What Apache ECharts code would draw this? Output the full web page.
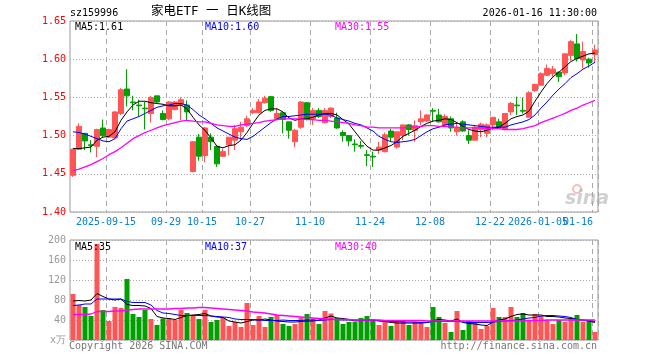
<!DOCTYPE html>
<html><head><meta charset="utf-8">
<script src="https://cdn.jsdelivr.net/npm/echarts@6/dist/echarts.min.js"></script>
<style>html,body{margin:0;padding:0;background:#fff}#c{width:660px;height:360px}</style>
</head><body><div id="c"></div>
<script>
const dates = ['2025-09-05','2025-09-08','2025-09-09','2025-09-10','2025-09-11','2025-09-12','2025-09-15','2025-09-16','2025-09-17','2025-09-18',
'2025-09-19','2025-09-22','2025-09-23','2025-09-24','2025-09-25','2025-09-26','2025-09-29','2025-09-30','2025-10-09','2025-10-10',
'2025-10-13','2025-10-14','2025-10-15','2025-10-16','2025-10-17','2025-10-20','2025-10-21','2025-10-22','2025-10-23','2025-10-24',
'2025-10-27','2025-10-28','2025-10-29','2025-10-30','2025-10-31','2025-11-03','2025-11-04','2025-11-05','2025-11-06','2025-11-07',
'2025-11-10','2025-11-11','2025-11-12','2025-11-13','2025-11-14','2025-11-17','2025-11-18','2025-11-19','2025-11-20','2025-11-21',
'2025-11-24','2025-11-25','2025-11-26','2025-11-27','2025-11-28','2025-12-01','2025-12-02','2025-12-03','2025-12-04','2025-12-05',
'2025-12-08','2025-12-09','2025-12-10','2025-12-11','2025-12-12','2025-12-15','2025-12-16','2025-12-17','2025-12-18','2025-12-19',
'2025-12-22','2025-12-23','2025-12-24','2025-12-25','2025-12-26','2025-12-29','2025-12-30','2025-12-31','2026-01-05','2026-01-06',
'2026-01-07','2026-01-08','2026-01-09','2026-01-12','2026-01-13','2026-01-14','2026-01-15','2026-01-16'];

const opens = [1.448,1.482,1.503,1.488,1.486,1.510,1.498,1.497,1.529,1.561,
1.544,1.540,1.536,1.529,1.552,1.529,1.522,1.534,1.540,1.540,
1.453,1.498,1.474,1.498,1.486,1.473,1.488,1.494,1.505,1.513,
1.530,1.530,1.543,1.551,1.522,1.530,1.518,1.492,1.511,1.543,
1.522,1.533,1.517,1.525,1.523,1.504,1.500,1.489,1.487,1.475,
1.473,1.481,1.479,1.506,1.485,1.500,1.514,1.507,1.518,1.519,
1.533,1.527,1.514,1.522,1.505,1.518,1.500,1.494,1.508,1.503,
1.514,1.518,1.508,1.531,1.540,1.533,1.524,1.559,1.566,1.579,
1.581,1.583,1.582,1.605,1.620,1.599,1.600,1.606];
const closes = [1.482,1.512,1.493,1.487,1.508,1.500,1.508,1.531,1.560,1.552,
1.543,1.539,1.535,1.550,1.544,1.521,1.544,1.544,1.547,1.531,
1.492,1.473,1.510,1.492,1.463,1.479,1.498,1.509,1.511,1.522,
1.533,1.544,1.549,1.533,1.529,1.521,1.507,1.507,1.544,1.522,
1.533,1.525,1.533,1.536,1.510,1.500,1.493,1.488,1.486,1.474,
1.472,1.485,1.501,1.498,1.505,1.514,1.508,1.513,1.522,1.527,
1.532,1.518,1.525,1.510,1.510,1.506,1.494,1.511,1.515,1.514,
1.524,1.511,1.529,1.542,1.539,1.532,1.556,1.567,1.581,1.588,
1.587,1.577,1.607,1.623,1.601,1.610,1.595,1.612];
const lows = [1.446,1.481,1.481,1.478,1.472,1.498,1.497,1.496,1.527,1.538,
1.533,1.525,1.508,1.517,1.542,1.520,1.520,1.533,1.520,1.520,
1.452,1.467,1.465,1.481,1.459,1.472,1.474,1.481,1.494,1.511,
1.528,1.529,1.542,1.531,1.520,1.503,1.496,1.485,1.509,1.520,
1.514,1.523,1.516,1.523,1.509,1.492,1.486,1.479,1.483,1.460,
1.459,1.476,1.478,1.492,1.483,1.494,1.500,1.492,1.514,1.518,
1.518,1.517,1.511,1.505,1.500,1.505,1.489,1.494,1.498,1.498,
1.507,1.509,1.507,1.527,1.527,1.529,1.524,1.557,1.566,1.578,
1.577,1.570,1.579,1.598,1.597,1.588,1.589,1.595];
const highs = [1.483,1.516,1.503,1.494,1.509,1.521,1.509,1.532,1.562,1.587,
1.552,1.547,1.544,1.552,1.552,1.533,1.545,1.545,1.550,1.546,
1.493,1.502,1.511,1.503,1.487,1.483,1.498,1.514,1.518,1.526,
1.536,1.548,1.552,1.552,1.536,1.530,1.518,1.509,1.545,1.544,
1.536,1.536,1.536,1.537,1.530,1.507,1.500,1.495,1.493,1.481,
1.479,1.492,1.504,1.509,1.505,1.514,1.515,1.520,1.533,1.528,
1.536,1.535,1.528,1.525,1.516,1.520,1.507,1.514,1.517,1.516,
1.524,1.522,1.529,1.544,1.551,1.550,1.558,1.568,1.583,1.593,
1.591,1.584,1.607,1.625,1.633,1.623,1.602,1.619];

const ma5 = [1.483,1.483,1.484,1.485,1.494,1.498,1.499,1.505,1.520,1.531,
1.540,1.545,1.545,1.543,1.542,1.541,1.539,1.539,1.540,1.535,
1.524,1.514,1.507,1.497,1.486,1.484,1.487,1.488,1.494,1.504,
1.516,1.527,1.533,1.535,1.535,1.531,1.523,1.520,1.522,1.522,
1.524,1.527,1.529,1.529,1.527,1.521,1.515,1.505,1.495,1.486,
1.481,1.481,1.484,1.487,1.492,1.499,1.503,1.507,1.512,1.516,
1.519,1.520,1.522,1.521,1.517,1.512,1.508,1.506,1.505,1.507,
1.510,1.511,1.516,1.522,1.525,1.527,1.532,1.545,1.557,1.568,
1.577,1.583,1.590,1.597,1.601,1.604,1.607,1.608];
const ma10 = [1.505,1.504,1.502,1.499,1.496,1.493,1.492,1.496,1.509,1.519,
1.522,1.525,1.529,1.533,1.537,1.539,1.540,1.542,1.542,1.540,
1.534,1.527,1.522,1.516,1.510,1.506,1.502,1.498,1.496,1.495,
1.499,1.505,1.511,1.517,1.522,1.525,1.525,1.526,1.527,1.528,
1.528,1.528,1.528,1.527,1.523,1.521,1.519,1.516,1.514,1.510,
1.506,1.499,1.495,1.492,1.491,1.492,1.493,1.495,1.500,1.505,
1.509,1.511,1.514,1.515,1.516,1.515,1.514,1.513,1.512,1.511,
1.511,1.511,1.511,1.514,1.516,1.518,1.521,1.527,1.536,1.544,
1.553,1.561,1.568,1.576,1.581,1.587,1.591,1.596];
const ma30 = [1.454,1.456,1.459,1.462,1.466,1.470,1.475,1.479,1.484,1.490,
1.496,1.500,1.504,1.507,1.510,1.513,1.515,1.517,1.519,1.520,
1.519,1.518,1.518,1.516,1.514,1.513,1.512,1.512,1.514,1.515,
1.516,1.517,1.519,1.520,1.521,1.522,1.522,1.522,1.522,1.521,
1.521,1.520,1.520,1.519,1.518,1.517,1.516,1.514,1.513,1.511,
1.511,1.510,1.510,1.510,1.510,1.510,1.511,1.511,1.512,1.513,
1.513,1.512,1.512,1.511,1.511,1.510,1.510,1.510,1.510,1.509,
1.509,1.509,1.508,1.508,1.508,1.509,1.511,1.513,1.517,1.520,
1.523,1.526,1.529,1.533,1.536,1.540,1.543,1.546];

const volumes = [92,70,66,48,192,60,38,66,64,122,
52,46,60,42,30,43,43,40,60,54,
48,42,60,36,40,44,28,36,26,74,
30,48,26,46,50,32,28,32,45,52,
43,32,58,53,44,32,36,36,44,48,
40,30,40,28,36,40,30,36,36,26,
66,46,34,16,58,20,38,36,22,28,
64,46,46,66,46,54,40,52,48,40,
32,40,36,42,50,36,40,16];
const volMa5 = [78,79,78,80,93,87,82,80,82,71,
69,69,68,63,47,44,43,41,45,49,
50,51,53,48,46,45,38,36,34,37,
40,40,42,40,38,37,36,36,37,38,
38,40,44,48,44,43,41,38,39,40,
40,38,37,35,34,34,34,34,34,35,
39,41,40,38,42,35,33,32,30,29,
36,40,42,47,51,52,50,50,50,47,
47,46,44,43,41,40,38,35];
const volMa10 = [69,70,72,72,82,82,82,82,82,77,
75,75,75,70,59,54,53,51,49,49,
49,49,49,48,47,46,45,42,41,41,
41,40,39,39,39,40,39,39,39,40,
40,39,40,41,41,40,40,40,40,40,
40,39,38,37,37,36,36,36,35,35,
37,37,37,37,37,36,35,35,35,35,
36,37,38,39,40,42,44,45,48,49,
49,48,47,45,41,40,39,37];
const volMa30 = [51,51,51,52,57,57,57,58,58,60,
61,62,62,62,62,62,62,63,63,64,
64,65,65,64,63,62,61,60,59,58,
56,55,54,52,50,49,48,47,46,45,
44,43,42,42,41,41,41,40,40,40,
40,40,39,39,39,39,39,39,39,38,
38,38,38,38,38,38,38,38,38,38,
38,38,38,38,38,38,39,39,39,40,
40,40,40,40,40,40,40,40];

const tickDates = ['2025-09-15','2025-09-29','2025-10-15','2025-10-27','2025-11-10','2025-11-24','2025-12-08','2025-12-22','2026-01-05','2026-01-16'];
const tickLabels = ['2025-09-15','09-29','10-15','10-27','11-10','11-24','12-08','12-22','2026-01-05','01-16'];
const priceMaLabels = ['MA5:1.61','MA10:1.60','MA30:1.55'];
const volMaLabels = ['MA5:35','MA10:37','MA30:40'];
const headerCode = 'sz159996';
const headerTitle = '家电ETF 一 日K线图';
const headerTime = '2026-01-16 11:30:00';

const FONT = '"DejaVu Sans Mono", monospace';
const UP = '#ff5555', DOWN = '#00a000';
const MA_COLORS = ['#000000', '#0000ff', '#ff00ff'];
const tickIdx = tickDates.map(d => dates.indexOf(d));
const isTick = (i) => tickIdx.indexOf(i) >= 0;

function xAxis(gridIndex, showLabels) {
  return {
    type: 'category', gridIndex: gridIndex, data: dates, boundaryGap: true,
    axisLine: {show: false}, axisTick: {show: false},
    axisLabel: showLabels ? {
      show: true, interval: 0, margin: 5, color: '#0a80d0', hideOverlap: false,
      fontFamily: FONT, fontSize: 10,
      formatter: function (v) {
        const k = tickDates.indexOf(v);
        if (k < 0) return '';
        return (k === tickDates.length - 1 ? '{e|' : '{m|') + tickLabels[k] + '}';
      },
      rich: {
        m: {padding: [0, 6, 0, 0], fontFamily: FONT, fontSize: 10, color: '#0a80d0'},
        e: {padding: [0, 34, 0, 0], fontFamily: FONT, fontSize: 10, color: '#0a80d0'}
      }
    } : {show: false},
    splitLine: {show: true, interval: isTick, lineStyle: {color: '#a8a8a8', width: 1, type: [5, 4]}}
  };
}

const chart = echarts.init(document.getElementById('c'), null, {renderer: 'canvas', width: 660, height: 360});
const txt = (x, y, text, fill, opts) => Object.assign({
  type: 'text', x: x, y: y, silent: true, z: 100,
  style: Object.assign({text: text, fill: fill, font: '10px ' + FONT, textVerticalAlign: 'middle'}, (opts || {}))
});

chart.setOption({
  animation: false,
  backgroundColor: '#fff',
  grid: [
    {left: 70, top: 21, width: 528, height: 191, show: true, borderColor: '#999', borderWidth: 1},
    {left: 70, top: 240, width: 528, height: 100, show: true, borderColor: '#999', borderWidth: 1}
  ],
  xAxis: [xAxis(0, true), xAxis(1, false)],
  yAxis: [
    {type: 'value', gridIndex: 0, min: 1.40, max: 1.65, interval: 0.05, scale: true,
     axisLine: {show: false}, axisTick: {show: false},
     axisLabel: {color: '#ff0000', fontFamily: FONT, fontSize: 10, margin: 4, formatter: v => v.toFixed(2)},
     splitLine: {show: true, lineStyle: {color: '#aaa', type: [1, 2]}}},
    {type: 'value', gridIndex: 1, min: 0, max: 200, interval: 40,
     axisLine: {show: false}, axisTick: {show: false},
     axisLabel: {color: '#999', fontFamily: FONT, fontSize: 10, margin: 4, formatter: v => v === 0 ? 'x万' : String(v)},
     splitLine: {show: true, lineStyle: {color: '#aaa', type: [1, 2]}}}
  ],
  series: [
    {type: 'candlestick', xAxisIndex: 0, yAxisIndex: 0, barWidth: 5,
     data: dates.map((d, i) => [opens[i], closes[i], lows[i], highs[i]]),
     itemStyle: {color: UP, color0: DOWN, borderColor: UP, borderColor0: DOWN, borderWidth: 1}},
    {type: 'line', xAxisIndex: 0, yAxisIndex: 0, data: ma5, symbol: 'none', lineStyle: {color: MA_COLORS[0], width: 1}},
    {type: 'line', xAxisIndex: 0, yAxisIndex: 0, data: ma10, symbol: 'none', lineStyle: {color: MA_COLORS[1], width: 1}},
    {type: 'line', xAxisIndex: 0, yAxisIndex: 0, data: ma30, symbol: 'none', lineStyle: {color: MA_COLORS[2], width: 1.3}},
    {type: 'bar', xAxisIndex: 1, yAxisIndex: 1, barWidth: 5,
     data: volumes.map((v, i) => ({value: v, itemStyle: {color: closes[i] >= opens[i] ? UP : DOWN}}))},
    {type: 'line', xAxisIndex: 1, yAxisIndex: 1, data: volMa5, symbol: 'none', lineStyle: {color: MA_COLORS[0], width: 1}},
    {type: 'line', xAxisIndex: 1, yAxisIndex: 1, data: volMa10, symbol: 'none', lineStyle: {color: MA_COLORS[1], width: 1}},
    {type: 'line', xAxisIndex: 1, yAxisIndex: 1, data: volMa30, symbol: 'none', lineStyle: {color: MA_COLORS[2], width: 1.3}}
  ],
  graphic: [
    txt(70, 13, headerCode, '#000'),
    txt(151, 12, headerTitle, '#000', {font: '12.5px "DejaVu Sans Mono", "Noto Sans CJK SC", sans-serif'}),
    txt(597, 13, headerTime, '#000', {textAlign: 'right'}),
    txt(75, 27, priceMaLabels[0], MA_COLORS[0]),
    txt(205, 27, priceMaLabels[1], MA_COLORS[1]),
    txt(335, 27, priceMaLabels[2], MA_COLORS[2]),
    txt(75, 247, volMaLabels[0], MA_COLORS[0]),
    txt(205, 247, volMaLabels[1], MA_COLORS[1]),
    txt(335, 247, volMaLabels[2], MA_COLORS[2]),
    txt(69, 346, 'Copyright 2026 SINA.COM', '#777'),
    txt(597, 346, 'http://finance.sina.com.cn', '#777', {textAlign: 'right'}),
    {type: 'circle', silent: true, z: 1, shape: {cx: 577, cy: 189, r: 4}, style: {fill: 'none', stroke: 'rgba(235,110,110,0.45)', lineWidth: 2}},
    txt(565, 199, 'sina', 'rgba(170,170,170,0.55)', {font: 'italic bold 19px "DejaVu Sans", sans-serif'})
  ]
});
</script>
</body></html>
